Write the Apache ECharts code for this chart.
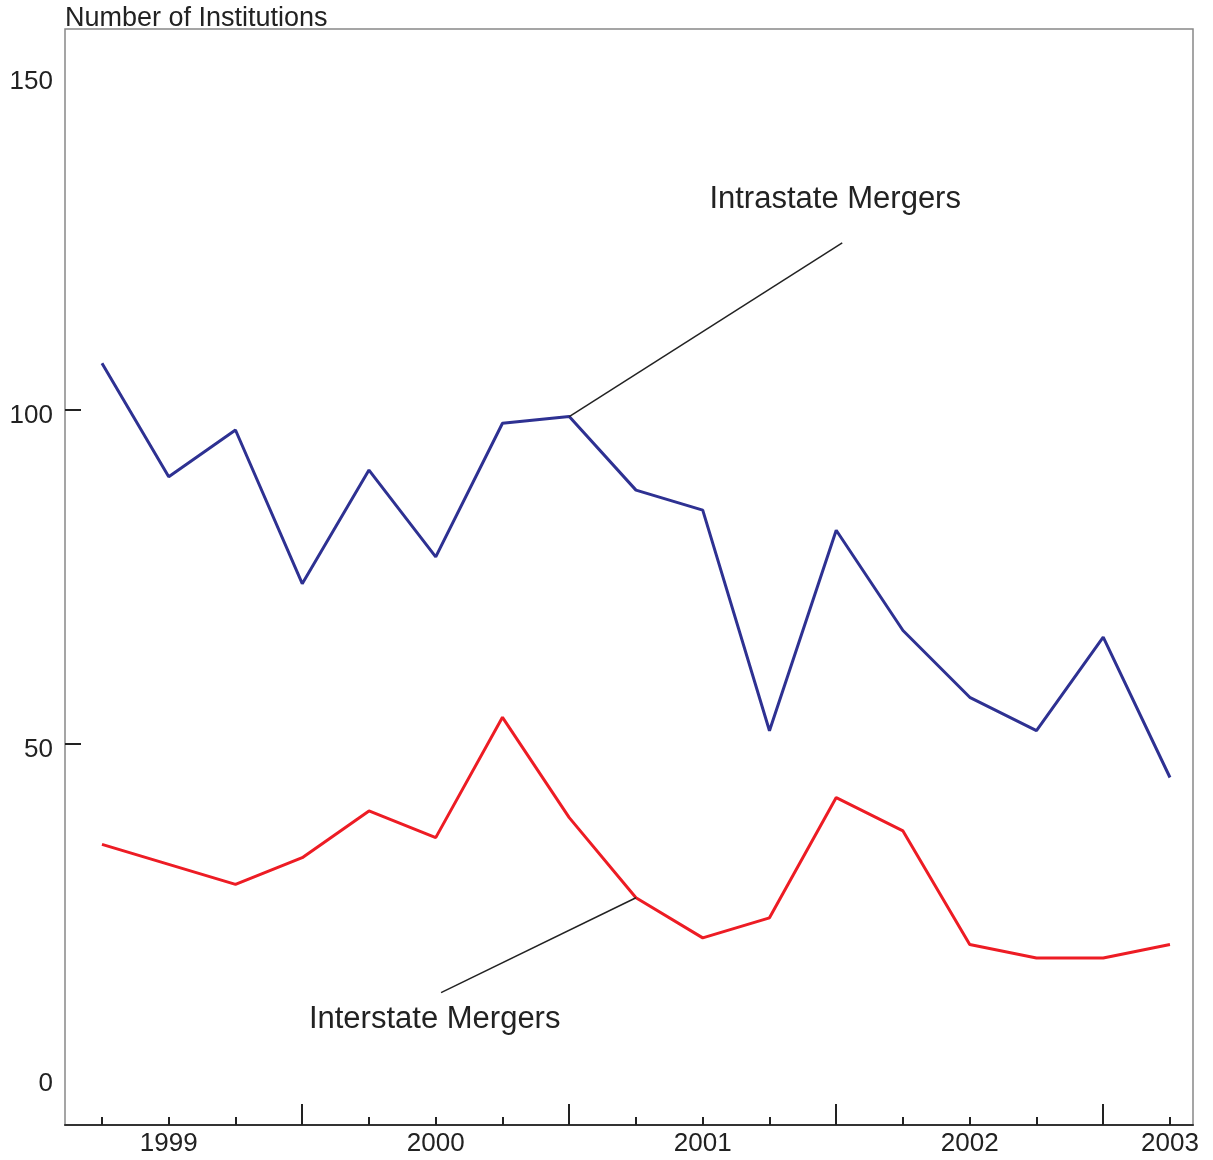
<!DOCTYPE html>
<html>
<head>
<meta charset="utf-8">
<script src="https://cdn.jsdelivr.net/npm/echarts@6/dist/echarts.min.js"></script>
<style>
  html, body { margin: 0; padding: 0; background: #fff; }
  #chart { width: 1213px; height: 1160px; }
</style>
</head>
<body>
<div id="chart"></div>
<script>
// quarterly points, 17 of them
const quarters = ['1999Q2', '1999Q3', '1999Q4', '2000Q1', '2000Q2', '2000Q3', '2000Q4', '2001Q1',
  '2001Q2', '2001Q3', '2001Q4', '2002Q1', '2002Q2', '2002Q3', '2002Q4', '2003Q1', '2003Q2']
const intrastate = [107, 90, 97, 74, 91, 78, 98, 99, 88, 85, 52, 82, 67, 57, 52, 66, 45]
const interstate = [35, 32, 29, 33, 40, 36, 54, 39, 27, 21, 24, 42, 37, 20, 18, 18, 20]

// x axis: year labels and the longer year ticks
const yearLabels = ['1999', '2000', '2001', '2002', '2003']
const yearLabelPos = [1, 5, 9, 13, 16]
const yearTickPos = [3, 7, 11, 15]

// y axis
const yLabels = [0, 50, 100, 150]
const yTicks = [50, 100]

// annotations: [start, end] and text spot, in data units
const intraPointer = [[7, 99], [11.09, 125]]
const intraText = [9.1, 131.5]
const interPointer = [[8, 27], [5.08, 12.8]]
const interText = [3.1, 8.8]

const chart = echarts.init(document.getElementById('chart'))
const font = 'Liberation Sans, Arial, Helvetica, sans-serif'

const toPairs = arr => arr.map((v, i) => [i, v])
const qIdx = quarters.map((q, i) => i)

const xMin = -0.554
const xMax = 16.345

function pointer(line, text, label) {
  return {
    markLine: {
      silent: true,
      symbol: 'none',
      animation: false,
      lineStyle: { color: '#222', width: 1.5, type: 'solid' },
      label: { show: false },
      emphasis: { disabled: true },
      data: [[{ coord: line[0] }, { coord: line[1] }]]
    },
    markPoint: {
      silent: true,
      symbol: 'circle',
      symbolSize: 0,
      animation: false,
      label: {
        show: true,
        position: 'right',
        distance: 0,
        formatter: label,
        color: '#222',
        fontSize: 31,
        fontFamily: font
      },
      data: [{ coord: text }]
    }
  }
}

chart.setOption({
  animation: false,
  title: {
    text: 'Number of Institutions',
    left: 60,
    top: 0,
    textStyle: { fontSize: 27, fontWeight: 'normal', color: '#222', fontFamily: font }
  },
  grid: {
    left: 65,
    right: 20,
    top: 29,
    bottom: 35,
    show: true,
    borderColor: '#888',
    borderWidth: 1.5
  },
  xAxis: [
    {
      type: 'value',
      min: xMin,
      max: xMax,
      axisLine: { show: true, onZero: false, lineStyle: { color: '#333', width: 2 } },
      axisTick: {
        show: true,
        inside: true,
        length: 8,
        customValues: qIdx,
        lineStyle: { color: '#222', width: 2 }
      },
      axisLabel: {
        show: true,
        customValues: yearLabelPos,
        formatter: v => yearLabels[yearLabelPos.indexOf(Math.round(v))] || '',
        color: '#222',
        fontSize: 26,
        fontFamily: font,
        margin: 6
      },
      splitLine: { show: false }
    },
    {
      type: 'value',
      min: xMin,
      max: xMax,
      position: 'bottom',
      axisLine: { show: false, onZero: false },
      axisTick: {
        show: true,
        inside: true,
        length: 21,
        customValues: yearTickPos,
        lineStyle: { color: '#222', width: 2 }
      },
      axisLabel: { show: false },
      splitLine: { show: false }
    }
  ],
  yAxis: {
    type: 'value',
    min: -7,
    max: 157,
    axisLine: { show: false, onZero: false },
    axisTick: {
      show: true,
      inside: true,
      length: 16,
      customValues: yTicks,
      lineStyle: { color: '#222', width: 2 }
    },
    axisLabel: {
      customValues: yLabels,
      color: '#222',
      fontSize: 26,
      fontFamily: font,
      margin: 12,
      verticalAlign: 'top',
      lineHeight: 12
    },
    splitLine: { show: false }
  },
  series: [
    Object.assign({
      name: 'Intrastate Mergers',
      type: 'line',
      data: toPairs(intrastate),
      showSymbol: false,
      lineStyle: { color: '#2E3192', width: 3 },
      itemStyle: { color: '#2E3192' },
      z: 3
    }, pointer(intraPointer, intraText, 'Intrastate Mergers')),
    Object.assign({
      name: 'Interstate Mergers',
      type: 'line',
      data: toPairs(interstate),
      showSymbol: false,
      lineStyle: { color: '#ED1C24', width: 3 },
      itemStyle: { color: '#ED1C24' },
      z: 3
    }, pointer(interPointer, interText, 'Interstate Mergers'))
  ]
})
</script>
</body>
</html>
